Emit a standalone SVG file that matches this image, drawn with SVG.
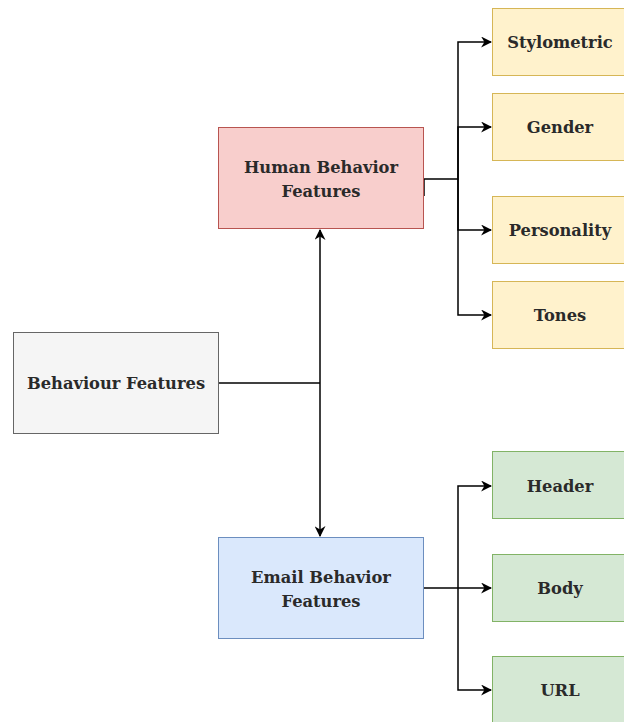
<svg xmlns="http://www.w3.org/2000/svg" width="624" height="722" viewBox="0 0 624 722">
<defs>
<marker id="arr" viewBox="0 0 10 10" refX="9" refY="5" markerWidth="11" markerHeight="11" markerUnits="userSpaceOnUse" orient="auto-start-reverse">
<path d="M0,0 L10,5 L0,10 L3,5 Z" fill="#000"/>
</marker>
<style>
.t{font-family:"DejaVu Serif","Liberation Serif",serif;font-size:16.3px;font-weight:bold;fill:#2a2a2a;text-anchor:middle}
.c{fill:none;stroke:#000;stroke-width:1.5}
.gray{fill:#f5f5f5;stroke:#666}
.red{fill:#f8cecc;stroke:#b85450}
.blue{fill:#dae8fc;stroke:#6c8ebf}
.yel{fill:#fff2cc;stroke:#d6b656}
.grn{fill:#d5e8d4;stroke:#82b366}
</style>
</defs>
<rect width="624" height="722" fill="#fff"/>
<g id="connectors">
<path class="c" d="M218,383 H320"/>
<path class="c" d="M320,383 V230" marker-end="url(#arr)"/>
<path class="c" d="M320,383 V536" marker-end="url(#arr)"/>
<path class="c" d="M424,196 V179 H458"/>
<path class="c" d="M458,179 V42 H491" marker-end="url(#arr)"/>
<path class="c" d="M458,179 V127 H491" marker-end="url(#arr)"/>
<path class="c" d="M458,179 V230 H491" marker-end="url(#arr)"/>
<path class="c" d="M458,179 V315 H491" marker-end="url(#arr)"/>
<path class="c" d="M424,588 H491" marker-end="url(#arr)"/>
<path class="c" d="M458,588 V486 H491" marker-end="url(#arr)"/>
<path class="c" d="M458,588 V690 H491" marker-end="url(#arr)"/>
</g>
<g id="behaviour"><rect class="gray" x="13.5" y="332.5" width="205" height="101"/><text class="t" x="116" y="389">Behaviour Features</text></g>
<g id="human"><rect class="red" x="218.5" y="127.5" width="205" height="101"/><text class="t" x="321" y="173">Human Behavior</text><text class="t" x="321" y="197">Features</text></g>
<g id="email"><rect class="blue" x="218.5" y="537.5" width="205" height="101"/><text class="t" x="321" y="583">Email Behavior</text><text class="t" x="321" y="607">Features</text></g>
<g id="stylometric"><rect class="yel" x="492.5" y="8.5" width="140" height="67"/><text class="t" x="560" y="48">Stylometric</text></g>
<g id="gender"><rect class="yel" x="492.5" y="93.5" width="140" height="67"/><text class="t" x="560" y="133">Gender</text></g>
<g id="personality"><rect class="yel" x="492.5" y="196.5" width="140" height="67"/><text class="t" x="560" y="236">Personality</text></g>
<g id="tones"><rect class="yel" x="492.5" y="281.5" width="140" height="67"/><text class="t" x="560" y="321">Tones</text></g>
<g id="header"><rect class="grn" x="492.5" y="451.5" width="140" height="67"/><text class="t" x="560" y="492">Header</text></g>
<g id="body"><rect class="grn" x="492.5" y="554.5" width="140" height="67"/><text class="t" x="560" y="594">Body</text></g>
<g id="url"><rect class="grn" x="492.5" y="656.5" width="140" height="67"/><text class="t" x="560" y="696">URL</text></g>
</svg>
